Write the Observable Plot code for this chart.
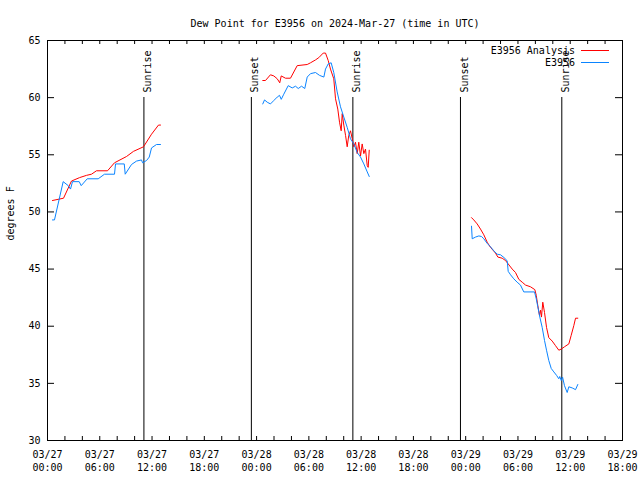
<!DOCTYPE html>
<html><head><meta charset="utf-8">
<script src="https://cdn.jsdelivr.net/npm/d3@7"></script>
<script src="https://cdn.jsdelivr.net/npm/@observablehq/plot@0.6"></script>
<style>body{margin:0;background:#fff}</style>
</head><body><div id="chart"></div>
<script>
const title = "Dew Point for E3956 on 2024-Mar-27 (time in UTC)";
const yLabel = "degrees F";
const seriesNames = ["E3956 Analysis", "E3956"];
const seriesColors = ["#ff0000", "#0a84ff"];
const startTime = "2024-03-27T00:00Z";
const endTime = "2024-03-29T18:00Z";
const yDomain = [30, 65];
const yTicks = [30, 35, 40, 45, 50, 55, 60, 65];

// times are hours since 2024-03-27 00:00 UTC
const analysisHours1 = [0.57,1.84,2.75,3.67,4.48,5.05,5.62,6.89,7.69,9.07,9.87,11.02,11.94,12.74,12.97];
const analysisDew1   = [51.0,51.2,52.7,53.0,53.2,53.3,53.6,53.6,54.3,54.85,55.3,55.7,56.8,57.6,57.6];
const analysisHours2 = [24.71,25.02,25.59,25.98,26.37,26.66,26.83,27.32,27.89,28.66,29.81,30.19,30.76,31.14,31.65,31.91,32.22,32.48,32.86,33.06,33.32,33.52,33.71,33.83,34.01,34.21,34.40,34.58,34.78,34.98,35.16,35.35,35.55,35.73,35.93,36.12,36.31,36.50,36.70,36.81,36.93];
const analysisDew2   = [61.5,61.5,62.0,61.9,61.65,61.3,61.9,61.7,61.7,62.8,62.9,63.05,63.3,63.5,63.9,63.9,63.25,62.5,61.65,59.9,59.0,57.85,57.1,58.6,57.6,56.7,55.7,56.7,57.1,56.4,55.7,56.1,55.1,56.1,54.9,55.95,55.1,55.5,54.05,53.9,55.4];
const analysisHours3 = [48.67,48.93,49.32,49.70,50.08,50.47,50.85,51.42,51.69,52.19,52.57,52.88,53.34,53.72,54.10,54.49,54.87,55.44,55.94,56.10,56.28,56.47,56.59,56.70,56.85,57.05,57.28,57.54,57.93,58.31,58.69,58.97,59.34,59.84,60.11,60.41,60.61,60.87];
const analysisDew3   = [49.5,49.3,48.95,48.5,48.0,47.35,46.9,46.4,46.05,45.95,45.75,45.45,45.0,44.7,44.1,43.85,43.6,43.45,43.2,42.7,41.8,40.95,41.4,40.8,42.1,41.2,39.9,39.0,38.7,38.3,37.9,38.0,38.2,38.45,39.2,40.05,40.7,40.7];

const obsHours1 = [0.57,0.80,1.80,2.38,2.64,2.87,3.64,3.87,4.56,5.82,6.54,7.69,7.81,8.81,8.92,9.64,10.22,10.79,10.91,11.37,11.68,11.94,12.51,12.97];
const obsDew1   = [49.3,49.3,52.65,52.3,52.0,52.65,52.65,52.3,52.9,52.9,53.3,53.3,54.2,54.2,53.3,54.15,54.45,54.55,54.3,54.5,54.8,55.6,55.9,55.9];
const obsHours2 = [24.71,24.91,25.22,25.59,25.98,26.37,26.63,26.83,27.12,27.63,28.09,28.47,28.78,29.16,29.53,29.81,30.19,30.76,31.22,31.72,31.91,32.22,32.56,32.86,33.25,33.63,34.01,34.40,34.78,35.16,35.55,35.93,36.31,36.70,36.93];
const obsDew2   = [59.45,59.8,59.6,59.45,59.75,60.05,60.2,59.85,60.3,61.05,60.85,61.0,60.8,61.0,60.8,61.8,62.1,62.2,61.95,61.8,62.5,62.95,63.05,62.2,60.5,59.2,58.3,57.4,56.4,55.95,55.2,54.8,54.2,53.5,53.1];
const obsHours3 = [48.67,48.75,49.13,49.51,49.82,50.08,50.47,50.85,51.23,51.62,52.00,52.49,52.77,52.88,53.15,53.52,53.91,54.29,54.67,55.90,56.10,56.28,56.51,56.78,57.05,57.28,57.54,57.82,58.12,58.43,58.69,58.80,58.97,59.12,59.34,59.65,59.84,60.23,60.61,60.87];
const obsDew3   = [48.75,47.65,47.8,47.9,47.85,47.65,47.25,46.95,46.6,46.3,46.25,45.95,45.7,44.8,44.5,44.15,43.85,43.6,43.0,43.0,42.4,41.7,40.8,39.9,38.75,37.9,37.0,36.3,36.0,35.7,35.4,35.6,35.25,35.55,34.8,34.2,34.7,34.6,34.45,34.9];

const sunTimes  = ["2024-03-27T11:04Z","2024-03-27T23:24Z","2024-03-28T11:03Z","2024-03-28T23:24Z","2024-03-29T11:02Z"];
const sunLabels = ["Sunrise","Sunset","Sunrise","Sunset","Sunrise"];

const t0 = new Date(startTime).getTime();
const toRows = (hours, vals, seg) => hours.map((h, i) => ({time: new Date(t0 + h * 3600e3), dew: vals[i], seg}));
const analysis = [
  ...toRows(analysisHours1, analysisDew1, 1),
  ...toRows(analysisHours2, analysisDew2, 2),
  ...toRows(analysisHours3, analysisDew3, 3)
];
const obs = [
  ...toRows(obsHours1, obsDew1, 1),
  ...toRows(obsHours2, obsDew2, 2),
  ...toRows(obsHours3, obsDew3, 3)
];
const sun = sunTimes.map((t, i) => ({time: new Date(t), label: sunLabels[i]}));

const W = 640, H = 480, mL = 47, mR = 18, mT = 40, mB = 40;
const fw = W - mL - mR, fh = H - mT - mB;
const xStart = new Date(startTime), xEnd = new Date(endTime);
const minorTicks = d3.utcHour.every(2).range(xStart, new Date(xEnd.getTime() + 1));
const fmt = d3.utcFormat("%m/%d\n%H:%M");

const legend = (index, scales, values, dims) => {
  const g = d3.create("svg:g").attr("font-size", 10);
  const xr = dims.width - dims.marginRight;
  seriesNames.forEach((name, i) => {
    const y = dims.marginTop + 10.5 + i * 12;
    g.append("text").attr("x", xr - 47).attr("y", y).attr("dy", "0.32em")
      .attr("text-anchor", "end").attr("fill", "black").text(name);
    g.append("line").attr("x1", xr - 41).attr("x2", xr - 13).attr("y1", y).attr("y2", y)
      .attr("stroke", seriesColors[i]).attr("stroke-width", 1);
  });
  return g.node();
};

const chart = Plot.plot({
  width: W, height: H,
  marginLeft: mL, marginRight: mR, marginTop: mT, marginBottom: mB,
  style: {fontFamily: "DejaVu Sans Mono", fontSize: "10px", background: "white", color: "black"},
  x: {type: "utc", domain: [xStart, xEnd]},
  y: {domain: yDomain},
  marks: [
    Plot.axisX({ticks: d3.utcHour.every(6), tickFormat: fmt, tickSize: 0, tickPadding: 8, lineHeight: 1.3, label: null, fill: "black"}),
    Plot.axisY({ticks: yTicks, tickSize: 0, tickPadding: 7, label: null, fill: "black"}),
    Plot.ruleX(minorTicks, {insetTop: fh - 4, stroke: "black"}),
    Plot.ruleX(minorTicks, {insetBottom: fh - 4, stroke: "black"}),
    Plot.ruleY(yTicks, {insetRight: fw - 7, stroke: "black"}),
    Plot.ruleY(yTicks, {insetLeft: fw - 7, stroke: "black"}),
    Plot.ruleX(sun, {x: "time", insetTop: 57, stroke: "black", strokeWidth: 1}),
    Plot.text(sun, {x: "time", text: "label", frameAnchor: "top", dy: 52, rotate: -90, textAnchor: "start", fill: "black", fontSize: 10}),
    Plot.line(analysis, {x: "time", y: "dew", z: "seg", stroke: seriesColors[0], strokeWidth: 1}),
    Plot.line(obs, {x: "time", y: "dew", z: "seg", stroke: seriesColors[1], strokeWidth: 1}),
    Plot.frame({stroke: "black"}),
    Plot.text([title], {frameAnchor: "top", dy: -21, fill: "black", fontSize: 10}),
    Plot.text([yLabel], {frameAnchor: "left", dx: -37, rotate: -90, fill: "black", fontSize: 10}),
    legend
  ]
});
document.getElementById("chart").appendChild(chart);
</script>
</body></html>
